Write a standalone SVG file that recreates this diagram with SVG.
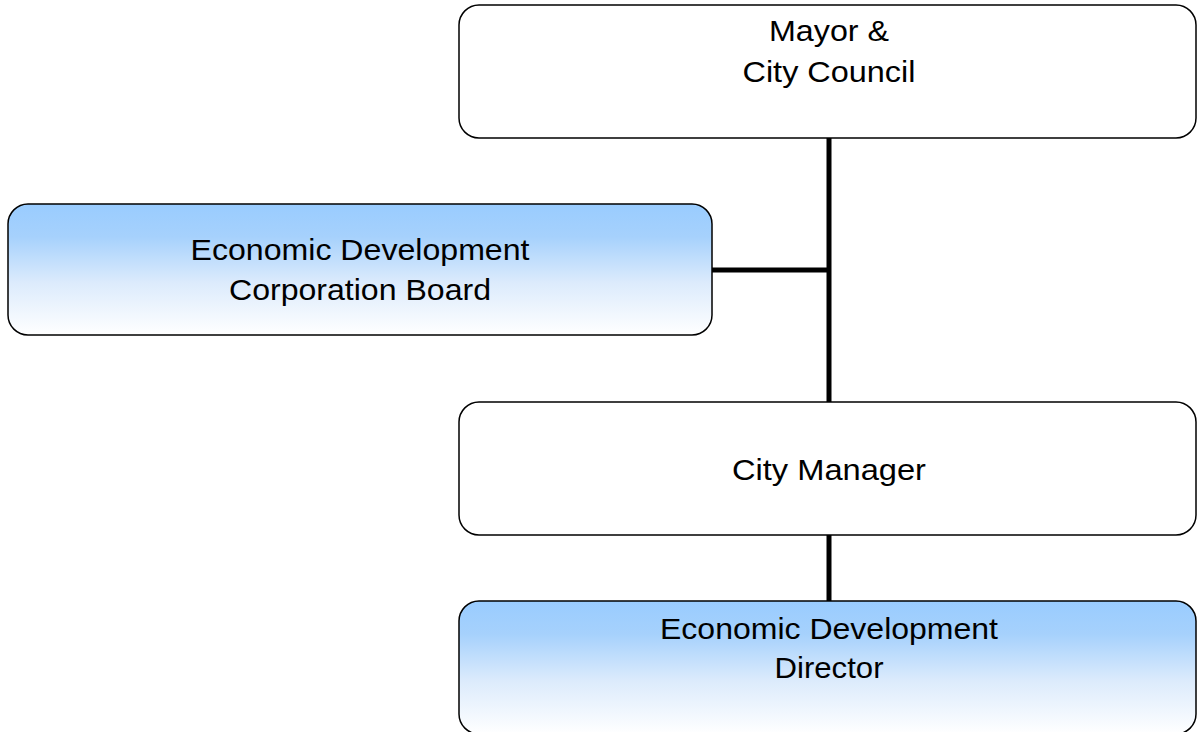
<svg xmlns="http://www.w3.org/2000/svg" width="1197" height="732" viewBox="0 0 1197 732">
<style>
.box{stroke:#000;stroke-width:1.5}
.w{fill:#fff}
.b{fill:url(#g)}
.t{font-family:"Liberation Sans",Arial,sans-serif;font-size:29px;fill:#000;text-anchor:middle}
.c{stroke:#000;stroke-width:5;fill:none}
</style>
<defs>
<linearGradient id="g" x1="0" y1="0" x2="0" y2="1">
<stop offset="0" stop-color="#99ccff"/>
<stop offset="0.25" stop-color="#a6d1fc"/>
<stop offset="0.6" stop-color="#dcebfc"/>
<stop offset="1" stop-color="#ffffff"/>
</linearGradient>
</defs>
<rect width="1197" height="732" fill="#fff"/>
<g id="connectors">
<line class="c" x1="829" y1="138" x2="829" y2="402"/>
<line class="c" x1="712" y1="270" x2="829" y2="270"/>
<line class="c" x1="829" y1="535" x2="829" y2="601"/>
</g>
<g id="mayor">
<rect class="box w" x="459" y="5" width="737" height="133" rx="20"/>
<text class="t" x="829" y="41" textLength="120" lengthAdjust="spacingAndGlyphs">Mayor &amp;</text>
<text class="t" x="829" y="82" textLength="173" lengthAdjust="spacingAndGlyphs">City Council</text>
</g>
<g id="edc-board">
<rect class="box b" x="8" y="204" width="704" height="131" rx="20"/>
<text class="t" x="360" y="260" textLength="339" lengthAdjust="spacingAndGlyphs">Economic Development</text>
<text class="t" x="360" y="300" textLength="262" lengthAdjust="spacingAndGlyphs">Corporation Board</text>
</g>
<g id="city-manager">
<rect class="box w" x="459" y="402" width="737" height="133" rx="20"/>
<text class="t" x="829" y="480" textLength="194" lengthAdjust="spacingAndGlyphs">City Manager</text>
</g>
<g id="ed-director">
<rect class="box b" x="459" y="601" width="737" height="133" rx="20"/>
<text class="t" x="829" y="639" textLength="338" lengthAdjust="spacingAndGlyphs">Economic Development</text>
<text class="t" x="829" y="678" textLength="109" lengthAdjust="spacingAndGlyphs">Director</text>
</g>
</svg>
